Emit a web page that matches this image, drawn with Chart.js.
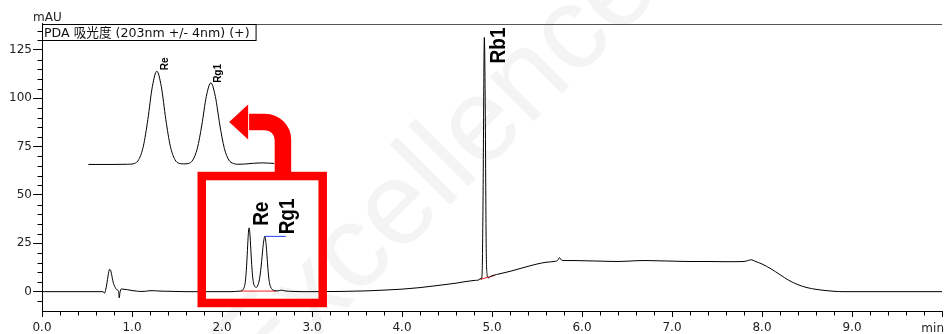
<!DOCTYPE html>
<html>
<head>
<meta charset="utf-8">
<script src="https://cdn.jsdelivr.net/npm/chart.js@4.4.1/dist/chart.umd.min.js"></script>
<style>
  html, body { margin: 0; padding: 0; background: #fff; }
  #wrap { width: 946px; height: 334px; position: relative; }
</style>
</head>
<body>
<div id="wrap"><canvas id="chromatogram"></canvas></div>
<script>
// PDA trace at 203 nm, retention time in minutes, absorbance in mAU
const times = [
    0.00, 0.30, 0.60, 0.68, 0.695, 0.705, 0.72, 0.735, 0.75, 0.76,
    0.775, 0.79, 0.81, 0.83, 0.85, 0.858, 0.866, 0.88, 0.90, 0.95,
    1.00, 1.05, 1.10, 1.15, 1.20, 1.25, 1.30, 1.40, 1.50, 1.60,
    1.80, 2.00, 2.10, 2.15, 2.20, 2.22, 2.24, 2.25, 2.26, 2.27,
    2.28, 2.29, 2.30, 2.31, 2.32, 2.33, 2.34, 2.35, 2.36, 2.38,
    2.39, 2.40, 2.41, 2.42, 2.43, 2.44, 2.45, 2.46, 2.475, 2.49,
    2.50, 2.51, 2.52, 2.53, 2.55, 2.58, 2.62, 2.66, 2.70, 2.80,
    3.00, 3.30, 3.60, 3.80, 4.00, 4.20, 4.40, 4.60, 4.80, 4.86,
    4.87, 4.88, 4.89, 4.90, 4.915, 4.925, 4.935, 4.945, 4.955, 4.965,
    4.975, 5.00, 5.10, 5.20, 5.30, 5.40, 5.50, 5.60, 5.70, 5.73,
    5.75, 5.77, 5.80, 5.90, 6.00, 6.20, 6.40, 6.60, 6.70, 6.80,
    7.00, 7.20, 7.40, 7.60, 7.80, 7.85, 7.88, 7.92, 8.00, 8.10,
    8.20, 8.30, 8.40, 8.50, 8.60, 8.70, 8.80, 8.90, 9.00, 9.50,
    10.00
];
const signal = [
    0, 0, 0, 0, -0.8, 0.5, 4, 8.5, 11.5, 11.3,
    8.5, 5, 2.5, 1.0, 0.3, -3.2, -0.5, 1.4, 1.3, 1.0,
    0.6, 0.3, 0.1, 0.2, 0.5, 0.5, 0.3, 0.2, 0.1, 0,
    0, 0, 0, 0.1, 0.3, 0.5, 1.5, 2.8, 5.5, 11,
    19, 28, 33, 30, 22, 14, 8, 4.5, 3, 2.2,
    2.5, 3.5, 5, 7.5, 11, 15.5, 20.5, 25, 28.6, 24.5,
    18.5, 12, 7, 4, 1.6, 0.6, 0.4, 0.8, 0.4, 0.1,
    0, 0.1, 0.4, 0.8, 1.3, 2.1, 3.2, 4.4, 5.8, 6.2,
    6.9, 6.4, 9, 45, 131.5, 95, 25, 9, 7.4, 7.1,
    7.6, 8.2, 9.4, 10.5, 11.8, 13.1, 14.3, 15.2, 15.7, 16.2,
    17.6, 16.4, 16.1, 16.1, 16.0, 15.8, 15.6, 16.0, 16.1, 16.0,
    15.8, 15.6, 15.6, 15.5, 15.6, 16.2, 16.5, 15.8, 14.3, 11.8,
    8.8, 5.8, 3.6, 2.1, 1.2, 0.6, 0.2, 0, 0, 0,
    0
];

// expanded view of the Re / Rg1 pair, drawn above the baseline
const insetTimes = [
    0.515, 0.80, 0.95, 1.026, 1.076, 1.126, 1.176, 1.226, 1.276, 1.326,
    1.376, 1.426, 1.476, 1.526, 1.576, 1.626, 1.676, 1.726, 1.776, 1.826,
    1.876, 1.926, 1.976, 2.026, 2.076, 2.126, 2.176, 2.25, 2.35, 2.45,
    2.58
];
const insetSignal = [
    65.8, 65.8, 65.9, 66.3, 68.4, 75.2, 89, 106, 114, 106,
    89, 75.2, 68.4, 66.3, 66.1, 66.3, 68.1, 74.1, 86.2, 101,
    108, 101, 86.2, 74.1, 68.1, 66.3, 65.9, 66.0, 66.4, 66.6,
    66.3
];

// integration baselines and marks
const reRg1BaseTimes = [2.21, 2.60];
const reRg1BaseValues = [0.3, 0.3];
const rb1BaseTimes = [4.87, 5.03];
const rb1BaseValues = [6.4, 8.4];
const rg1MarkTimes = [2.475, 2.71];
const rg1MarkValues = [28.6, 28.6];

const peakNames = ['Re', 'Rg1', 'Rb1'];
const peakTimes = [2.30, 2.475, 4.915];
const insetPeakNames = ['Re', 'Rg1'];
const insetPeakTimes = [1.276, 1.876];

const xTickLabels = ['0.0', '1.0', '2.0', '3.0', '4.0', '5.0', '6.0', '7.0', '8.0', '9.0'];
const yTickLabels = ['0', '25', '50', '75', '100', '125'];
const xUnit = 'min';
const yUnit = 'mAU';
const traceTitle = 'PDA 吸光度 (203nm +/- 4nm) (+)';

const TICK_FONT = '12px "DejaVu Sans", "Noto Sans CJK SC", sans-serif';
const TITLE_FONT = '12.6px "DejaVu Sans", "Noto Sans CJK SC", sans-serif';

const toPoints = (xs, ys) => xs.map((x, i) => ({ x: x, y: ys[i] }));

const lineSet = (xs, ys, color, width) => ({
    data: toPoints(xs, ys),
    borderColor: color,
    borderWidth: width,
    pointRadius: 0,
    cubicInterpolationMode: 'monotone',
    fill: false,
});

// highlight frame and arrow, in data units
const highlight = { x0: 1.775, x1: 3.119, y0: -5.85, y1: 59.8 };
const arrow = { stemX: 2.677, armY: 87.8, headBaseX: 2.29, tipX: 2.08 };

const valueAt = (xs, ys, t) => ys[xs.indexOf(t)];

const rotatedText = (ctx, text, x, y, font) => {
    ctx.save();
    ctx.translate(x, y);
    ctx.scale(1.12, 1);
    ctx.rotate(-Math.PI / 2);
    ctx.font = font;
    ctx.fillStyle = '#000';
    ctx.textAlign = 'left';
    ctx.textBaseline = 'alphabetic';
    ctx.fillText(text, 0, 0);
    ctx.restore();
};

const annotate = {
    id: 'annotate',
    beforeDraw(chart) {
        // faint background lettering
        const ctx = chart.ctx;
        ctx.save();
        ctx.translate(259, 396);
        ctx.rotate(-Math.PI / 4);
        ctx.font = '118px "Liberation Sans", Arial, sans-serif';
        ctx.fillStyle = '#f4f4f4';
        ctx.fillText('Excellence', 0, 0);
        ctx.restore();
    },
    afterDatasetsDraw(chart) {
        const ctx = chart.ctx;
        const xs = chart.scales.x;
        const ys = chart.scales.y;

        // peak names
        const mainOffsets = [[19, -2], [29, -2], [21, 26]];
        peakNames.forEach((name, i) => {
            const t = peakTimes[i];
            const px = xs.getPixelForValue(t);
            const py = ys.getPixelForValue(valueAt(times, signal, t));
            rotatedText(ctx, name, px + mainOffsets[i][0], py + mainOffsets[i][1],
                'bold 19px "Liberation Sans", Arial, sans-serif');
        });
        const insetOffsets = [[11, -1], [10.5, 0]];
        insetPeakNames.forEach((name, i) => {
            const t = insetPeakTimes[i];
            const px = xs.getPixelForValue(t);
            const py = ys.getPixelForValue(valueAt(insetTimes, insetSignal, t));
            rotatedText(ctx, name, px + insetOffsets[i][0], py + insetOffsets[i][1],
                'bold 10px "Liberation Sans", Arial, sans-serif');
        });

        // red frame round the Re / Rg1 pair
        ctx.save();
        ctx.strokeStyle = '#ff0000';
        ctx.fillStyle = '#ff0000';
        ctx.lineWidth = 8.5;
        const bx0 = xs.getPixelForValue(highlight.x0);
        const bx1 = xs.getPixelForValue(highlight.x1);
        const by0 = ys.getPixelForValue(highlight.y1);
        const by1 = ys.getPixelForValue(highlight.y0);
        ctx.strokeRect(bx0, by0, bx1 - bx0, by1 - by0);

        // bent arrow from the frame to the expanded view
        const sx = xs.getPixelForValue(arrow.stemX);
        const ay = ys.getPixelForValue(arrow.armY);
        const hx = xs.getPixelForValue(arrow.headBaseX);
        const tx = xs.getPixelForValue(arrow.tipX);
        ctx.lineWidth = 16.5;
        ctx.lineCap = 'butt';
        ctx.beginPath();
        ctx.moveTo(sx, by0);
        ctx.arcTo(sx, ay, hx, ay, 18);
        ctx.lineTo(hx + 1, ay);
        ctx.stroke();
        ctx.beginPath();
        ctx.moveTo(tx, ay);
        ctx.lineTo(hx, ay - 17.5);
        ctx.lineTo(hx, ay + 17.5);
        ctx.closePath();
        ctx.fill();
        ctx.restore();
    },
    afterDraw(chart) {
        const ctx = chart.ctx;
        const area = chart.chartArea;
        const xs = chart.scales.x;
        const ys = chart.scales.y;
        ctx.save();
        ctx.strokeStyle = '#000';
        ctx.lineWidth = 1;
        ctx.beginPath();
        // minor ticks every 0.2 min and every 5 mAU
        for (let k = 1; k < 50; k++) {
            if (k % 5 === 0) continue;
            const px = Math.round(xs.getPixelForValue(k * 0.2)) + 0.5;
            ctx.moveTo(px, Math.round(area.bottom));
            ctx.lineTo(px, Math.round(area.bottom) + 4.5);
        }
        for (let v = -5; v < 139; v += 5) {
            if (v % 25 === 0) continue;
            const py = Math.round(ys.getPixelForValue(v)) + 0.5;
            ctx.moveTo(Math.round(area.left) - 4.5, py);
            ctx.lineTo(Math.round(area.left), py);
        }
        ctx.stroke();

        // frame top
        ctx.strokeStyle = '#555';
        ctx.beginPath();
        ctx.moveTo(area.left, Math.round(area.top) + 0.5);
        ctx.lineTo(area.right, Math.round(area.top) + 0.5);
        ctx.stroke();

        // trace title box
        ctx.font = TITLE_FONT;
        ctx.fillStyle = '#111';
        ctx.textBaseline = 'alphabetic';
        ctx.textAlign = 'left';
        const w = ctx.measureText(traceTitle).width;
        ctx.strokeStyle = '#000';
        ctx.strokeRect(Math.round(area.left) + 0.5, Math.round(area.top) + 0.5, w + 8, 16);
        ctx.fillText(traceTitle, area.left + 2, area.top + 13);

        // axis units
        ctx.font = TICK_FONT;
        ctx.fillStyle = '#222';
        ctx.fillText(yUnit, 33, 21);
        ctx.textAlign = 'right';
        ctx.fillText(xUnit, 944, 331.5);
        ctx.restore();
    },
};

const axisFont = { family: '"DejaVu Sans", sans-serif', size: 12 };

new Chart(document.getElementById('chromatogram'), {
    type: 'line',
    data: {
        datasets: [
            lineSet(times, signal, '#000', 1),
            lineSet(insetTimes, insetSignal, '#000', 1),
            lineSet(reRg1BaseTimes, reRg1BaseValues, '#ff2020', 1),
            lineSet(rb1BaseTimes, rb1BaseValues, '#ff2020', 1),
            lineSet(rg1MarkTimes, rg1MarkValues, '#2040ff', 1),
        ],
    },
    options: {
        responsive: true,
        maintainAspectRatio: false,
        animation: false,
        events: [],
        layout: { padding: { top: 23.5, right: 0, bottom: 0, left: 0 } },
        plugins: {
            legend: { display: false },
            tooltip: { enabled: false },
        },
        scales: {
            x: {
                type: 'linear',
                min: 0,
                max: 10,
                afterFit: (scale) => { scale.height = 23; },
                ticks: {
                    stepSize: 1,
                    includeBounds: false,
                    autoSkip: false,
                    maxRotation: 0,
                    padding: 4,
                    color: '#222',
                    font: axisFont,
                    callback: (value) => xTickLabels[value] || '',
                },
                grid: { drawOnChartArea: false, tickLength: 6, tickColor: '#000' },
                border: { color: '#000' },
            },
            y: {
                min: -10,
                max: 138.7,
                afterFit: (scale) => { scale.width = 42; },
                ticks: {
                    stepSize: 25,
                    includeBounds: false,
                    padding: 1,
                    color: '#222',
                    font: axisFont,
                    callback: (value) => yTickLabels[value / 25] || '',
                },
                grid: { drawOnChartArea: false, tickLength: 9, tickColor: '#000' },
                border: { color: '#000' },
            },
        },
    },
    plugins: [annotate],
});
</script>
</body>
</html>
